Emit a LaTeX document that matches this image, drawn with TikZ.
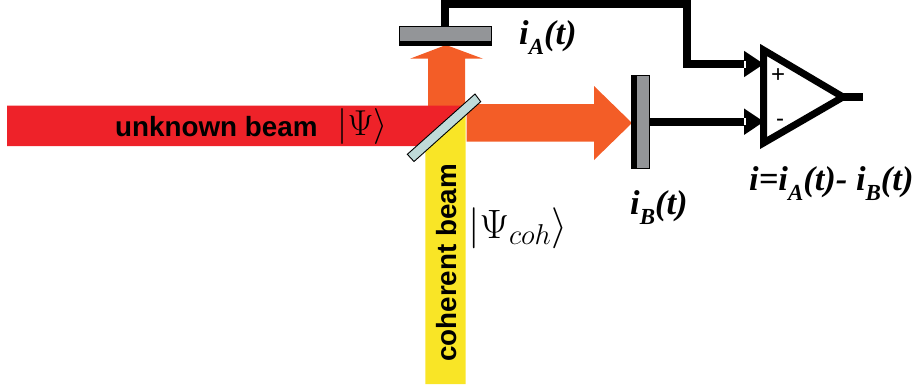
\RequirePackage{fix-cm}
\documentclass[tikz,border=0pt]{standalone}
\usepackage{fontspec}
\setmainfont{Liberation Serif}
\setsansfont{Liberation Sans}
\usetikzlibrary{arrows.meta}
\definecolor{beamred}{HTML}{EE2229}
\definecolor{beamorange}{HTML}{F35D27}
\definecolor{beamyellow}{HTML}{F9E526}
\definecolor{detgray}{HTML}{939598}
\definecolor{mirrorc}{HTML}{BFDBD9}
\newcommand{\lowsub}[1]{\raisebox{-0.3em}{\fontsize{23}{23}\selectfont #1}}
\tikzset{
  x=1pt,y=-1pt,
  detector/.style={draw=black,line width=0.8pt,fill=detgray,inner sep=0pt,outer sep=0pt},
  wire/.style={line width=7.8pt,draw=black,line join=miter},
  inwire/.style={wire,-{Triangle[length=20pt,width=25pt]}},
  ampshape/.style={line width=7pt,draw=black,line join=miter,fill=white},
  biglabel/.style={font=\bfseries\itshape\fontsize{34.5}{35}\selectfont,inner sep=0pt,anchor=base west},
  beamlabel/.style={font=\sffamily\bfseries\fontsize{27.8}{28}\selectfont,inner sep=0pt},
  ketlabel/.style={inner sep=0pt,anchor=base west},
  signlabel/.style={font=\sffamily\fontsize{24}{24}\selectfont,inner sep=0pt}
}
\begin{document}
\begin{tikzpicture}
\useasboundingbox (0,0) rectangle (915,388);
% beams
\fill[beamorange] (428,108) -- (428,58.7) -- (410,58.7) -- (446,45) -- (483,58.7) -- (465,58.7) -- (465,108) -- cycle;
\fill[beamyellow] (425.3,146) -- (465.7,110) -- (465.7,384) -- (425.3,384) -- cycle;
\fill[beamred] (7,105.5) -- (470,105.5) -- (425,146) -- (7,146) -- cycle;
\fill[beamorange] (466.7,104) -- (594,104) -- (594,86) -- (632,123) -- (594,160) -- (594,141.7) -- (466.7,141.7) -- cycle;
% beam splitter
\draw[fill=mirrorc,draw=black,line width=0.9pt] (475,94) -- (480.7,101.7) -- (414,161.5) -- (407.3,154.3) -- cycle;
% detectors
\node[detector,minimum width=92.5pt,minimum height=18.3pt] (detA) at (445.3,35.8) {};
\fill[black] (detA.south west) rectangle ([yshift=4.3pt]detA.south east);
\node[detector,minimum width=17.3pt,minimum height=93pt] (detB) at (640.4,121.5) {};
\fill[black] (detB.south west) rectangle ([xshift=5pt]detB.north west);
% amplifier
\coordinate (ampTop) at (763.5,50);
\coordinate (ampBot) at (763.5,143);
\coordinate (ampTip) at (843,97);
\coordinate (ampOut) at (862.7,97);
\coordinate (ampP) at (764,64);
\coordinate (ampM) at (764,121.7);
\coordinate (wA1) at (445.3,3.8);
\coordinate (wA2) at (686.7,3.8);
\coordinate (wA3) at (686.7,64);
\draw[ampshape] (ampTop) -- (ampTip) -- (ampBot) -- cycle;
\draw[wire,line width=7.5pt] (ampTip) -- (ampOut);
% connectors
\draw[wire] (detA.north) -- (wA1) -- (wA2) -- (wA3) -- ++(56,0);
\draw[inwire] (wA3) -- (ampP);
\draw[inwire] (detB.east |- ampM) -- (ampM);
\fill[white] (743.5,60.5) rectangle (746,67.5);
\fill[white] (743.5,118) rectangle (746,125);
\node[signlabel] (plus) at (778,76) {+};
\node[signlabel] (minus) at (780,123) {-};
% text
\node[beamlabel,anchor=base west] (unk) at (115,136) {unknown beam};
\node[beamlabel,anchor=base west,rotate=90] (coh) at (456.5,362) {coherent beam};
\node[ketlabel] (ketU) at (337.5,135) {\fontsize{36}{36}\selectfont$\left|\rule[-10pt]{0pt}{36pt}\Psi\right\rangle$};
\node[ketlabel] (ketC) at (468,238) {\fontsize{41}{41}\selectfont$\left|\rule[-10pt]{0pt}{38pt}\Psi_{coh}\right\rangle$};
\node[biglabel] (iA) at (519,44) {i\lowsub{A}(t)};
\node[biglabel] (iB) at (630,214.5) {i\lowsub{B}(t)};
\node[biglabel] (iEq) at (749,190) {i=i\lowsub{A}(t)- i\lowsub{B}(t)};
\end{tikzpicture}
\end{document}
